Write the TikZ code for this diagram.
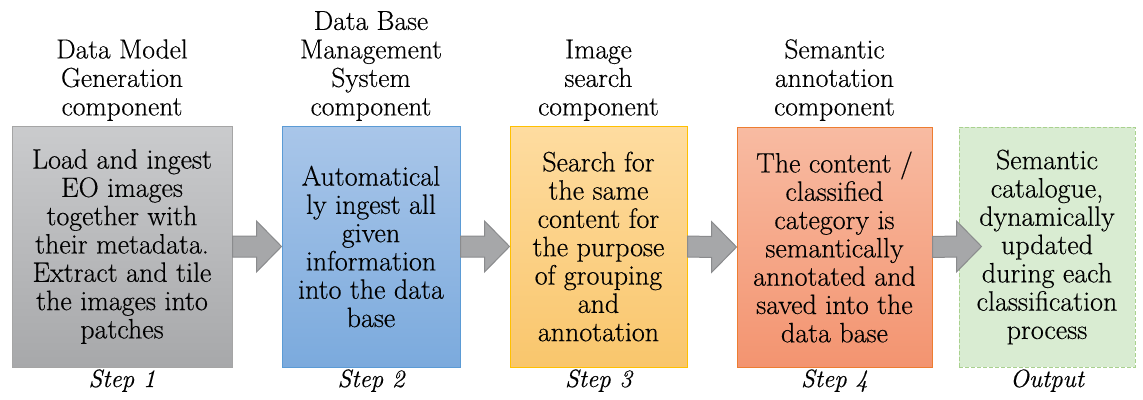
\documentclass[tikz,border=0pt]{standalone}
\usepackage{fontspec}
\setmainfont{Latin Modern Roman}[FakeBold=0.4]
\usetikzlibrary{calc}
\definecolor{g1t}{HTML}{CACBCD}
\definecolor{g1b}{HTML}{A7A8AA}
\definecolor{g1d}{HTML}{A5A5A5}
\definecolor{b2t}{HTML}{A9C6E9}
\definecolor{b2b}{HTML}{7BAADD}
\definecolor{b2d}{HTML}{5B9BD5}
\definecolor{o3t}{HTML}{FEDCA0}
\definecolor{o3b}{HTML}{F9C66C}
\definecolor{o3d}{HTML}{FFC000}
\definecolor{r4t}{HTML}{F8BBA2}
\definecolor{r4b}{HTML}{F39470}
\definecolor{r4d}{HTML}{ED7D31}
\definecolor{g5f}{HTML}{D9ECD2}
\definecolor{g5d}{HTML}{A9D18E}
\definecolor{arrf}{HTML}{A6A7A9}
\definecolor{arrd}{HTML}{8A8B8D}
\newcommand\blockarr[2]{%
  \draw[arrstyle] ($(#1)+(0,-10.5)$) -- ($(#2)+(-25,-10.5)$) -- ($(#2)+(-25,-25.5)$) -- (#2)
    -- ($(#2)+(-25,25.5)$) -- ($(#2)+(-25,10.5)$) -- ($(#1)+(0,10.5)$) -- cycle;}
\begin{document}
\begin{tikzpicture}[x=1pt,y=-1pt,
  box/.style={line width=1pt, minimum height=241pt, inner sep=0pt, align=center,
    font=\fontsize{28}{28.3}\selectfont, text=black},
  head/.style={anchor=south, inner sep=0pt, align=center, font=\fontsize{27.5}{28.5}\selectfont},
  steplbl/.style={anchor=base, inner sep=0pt, font=\fontsize{25}{25}\selectfont\itshape},
  arrstyle/.style={fill=arrf, draw=arrd, line width=1pt, line join=miter}]
\useasboundingbox (0,0) rectangle (1143,399);

\node[box, minimum width=220pt, draw=g1d, top color=g1t, bottom color=g1b] (b1) at (122,246.5)
  {Load and ingest\\EO images\\together with\\their metadata.\\Extract and tile\\the images into\\patches};
\node[box, minimum width=178pt, draw=b2d, top color=b2t, bottom color=b2b] (b2) at (371,246.5)
  {Automatical\\ly ingest all\\given\\information\\into the data\\base};
\node[box, minimum width=177pt, draw=o3d, top color=o3t, bottom color=o3b] (b3) at (598.5,246.5)
  {Search for\\the same\\content for\\the purpose\\of grouping\\and\\annotation};
\node[box, minimum width=195pt, minimum height=240pt, draw=r4d, top color=r4t, bottom color=r4b] (b4) at (834.5,247)
  {The content /\\classified\\category is\\semantically\\annotated and\\saved into the\\data base};
\node[box, minimum width=176pt, minimum height=240pt, draw=g5d, fill=g5f, dashed, dash pattern=on 4pt off 2pt] (b5) at (1047,247)
  {Semantic\\catalogue,\\dynamically\\updated\\during each\\classification\\process};

\node[head] (h1) at (122,121) {Data Model\\Generation\\component};
\node[head] (h2) at (371,121) {Data Base\\Management\\System\\component};
\node[head] (h3) at (598.5,121) {Image\\search\\component};
\node[head] (h4) at (834.5,121) {Semantic\\annotation\\component};

\node[steplbl] (s1) at (122,387) {Step 1};
\node[steplbl] (s2) at (371,387) {Step 2};
\node[steplbl] (s3) at (598.5,387) {Step 3};
\node[steplbl] (s4) at (834.5,387) {Step 4};
\node[steplbl] (s5) at (1047,387) {Output};

\coordinate (t5) at ($(b5.west)+(23,-0.5)$);
\blockarr{b1.east}{b2.west}
\blockarr{b2.east}{b3.west}
\blockarr{b3.east}{b4.west}
\blockarr{b4.east}{t5}
\end{tikzpicture}
\end{document}
